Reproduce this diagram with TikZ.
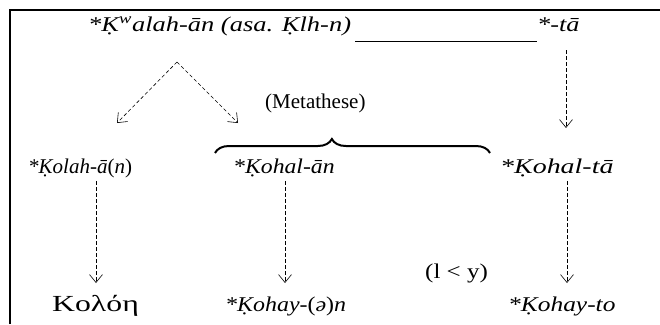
\documentclass[tikz,border=0pt]{standalone}
\usepackage{fontspec}
\setmainfont{Liberation Serif}
\usetikzlibrary{arrows.meta,decorations.pathreplacing}
\begin{document}
\begin{tikzpicture}[x=1pt,y=-1pt,
  lbl/.style={inner sep=0pt,anchor=base west,font=\fontsize{21}{25}\selectfont},
  dar/.style={dash pattern=on 3.5pt off 2.5pt,line width=0.6pt,-{Straight Barb[length=8pt,width=13pt,line width=0.6pt]}},
  frame/.style={line width=2pt}]
\useasboundingbox (0,0) rectangle (660,324);
\draw[frame] (10,324) -- (10,10) -- (660,10);
% top row
\node[lbl] (top) at (88,31) {\scalebox{1.26}[1]{\textit{*Ḳ\textsuperscript{w}alah-ān (asa. Ḳlh-n)}}};
\node[lbl] (ta) at (537,31) {\scalebox{1.25}[1]{\textit{*-tā}}};
\draw[line width=0.8pt] ([xshift=4pt,yshift=-10pt]top.base east) -- ([yshift=-10pt]ta.base west);
% row 2
\node[lbl] (kolah) at (28,173) {\textit{*Ḳolah-ā}(\textit{n})};
\node[lbl] (kohalan) at (233,173) {\scalebox{1.13}[1]{\textit{*Ḳohal-ān}}};
\node[lbl] (kohalta) at (500,173) {\scalebox{1.33}[1]{\textit{*Ḳohal-tā}}};
% row 3
\node[lbl,font=\fontsize{23}{27}\selectfont] (kolone) at (52,311) {\scalebox{1.38}[1]{Κολόη}};
\node[lbl] (kohayn) at (225,311) {\scalebox{1.14}[1]{\textit{*Ḳohay-}(\textit{ə})\textit{n}}};
\node[lbl] (lly) at (425,278) {\scalebox{1.19}[1]{(l < y)}};
\node[lbl] (kohayto) at (508,311) {\scalebox{1.21}[1]{\textit{*Ḳohay-to}}};
\node[lbl] (meta) at (265,108) {(Metathese)};
% arrows
\coordinate (apex) at (177,62);
\coordinate (t1) at (117,123);
\coordinate (t2) at (238,123);
\draw[dar] (apex) -- (t1);
\draw[dar] (apex) -- (t2);
\draw[dar] (566,50) -- (566,128);
\draw[dar] (96,181) -- (96,283);
\draw[dar] (285,181) -- (285,283);
\draw[dar] (567,181) -- (567,283);
% brace
\draw[line width=2pt,decorate,decoration={brace,amplitude=14pt,aspect=0.425}] (215,153) -- (490,153);
\end{tikzpicture}
\end{document}
